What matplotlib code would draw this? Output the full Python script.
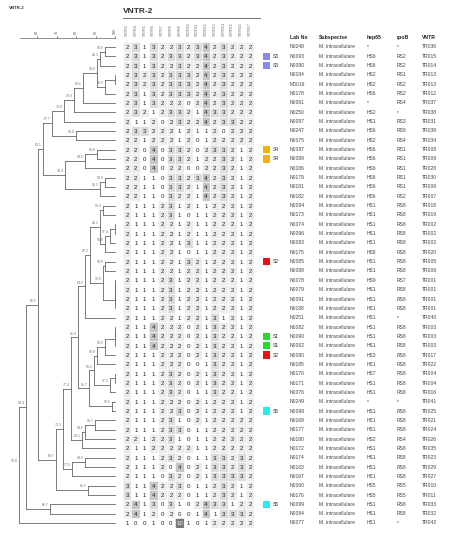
import numpy as np
import matplotlib.pyplot as plt
from matplotlib.patches import Rectangle

plt.rcParams['font.family'] = ['Liberation Sans', 'DejaVu Sans']

W, H = 458, 536

# ---- table data ----
lab_no = ['N0248', 'N0093', 'N0090', 'N0184', 'M0016', 'N0178', 'N0061', 'N0250', 'N0097',
          'N0247', 'N0075', 'N0087', 'N0089', 'N0186', 'N0179', 'N0181', 'N0182', 'N0094',
          'N0173', 'N0074', 'N0096', 'N0083', 'N0175', 'N0085', 'N0088', 'N0078', 'N0079',
          'N0091', 'N0188', 'N0251', 'N0082', 'N0090', 'N0092', 'N0080', 'N0185', 'N0170',
          'N0171', 'N0076', 'N0249', 'N0098', 'N0169', 'N0177', 'N0180', 'N0172', 'N0174',
          'N0183', 'N0167', 'N0060', 'N0176', 'N0099', 'N0084', 'N0077']
hsp65 = ['*', 'HS6', 'HS6', 'HS2', 'HS2', 'HS6', '*', 'HS2', 'HS1', 'HS6', 'HS2', 'HS6', 'HS6',
         'HS6', 'HS6', 'HS6', 'HS6', 'HS1', 'HS1', 'HS1', 'HS1', 'HS1', 'HS8', 'HS1', 'HS1',
         'HS9', 'HS1', 'HS1', 'HS1', 'HS1', 'HS1', 'HS1', 'HS1', 'HS3', 'HS1', 'HS7', 'HS1',
         'HS1', '*', 'HS1', 'HS1', 'HS1', 'HS2', 'HS1', 'HS1', 'HS1', 'HS1', 'HS5', 'HS5',
         'HS1', 'HS1', 'HS1']
rpob = ['*', 'RS2', 'RS2', 'RS1', 'RS2', 'RS2', 'RS4', '*', 'RS3', 'RS9', 'RS4', 'RS1', 'RS1',
        'RS1', 'RS1', 'RS1', 'RS2', 'RS8', 'RS8', 'RS8', 'RS8', 'RS8', 'RS8', 'RS8', 'RS8',
        'RS7', 'RS8', 'RS8', 'RS8', '*', 'RS8', 'RS8', 'RS8', 'RS8', 'RS8', 'RS8', 'RS8',
        'RS8', '*', 'RS8', 'RS8', 'RS8', 'RS4', 'RS8', 'RS8', 'RS8', 'RS8', 'RS5', 'RS5',
        'RS8', 'RS8', '*']
vntr_type = ['TR036', 'TR015', 'TR014', 'TR013', 'TR013', 'TR012', 'TR037', 'TR038', 'TR031',
             'TR039', 'TR034', 'TR008', 'TR009', 'TR028', 'TR030', 'TR006', 'TR007', 'TR018',
             'TR019', 'TR002', 'TR002', 'TR002', 'TR020', 'TR005', 'TR006', 'TR001', 'TR001',
             'TR001', 'TR001', 'TR040', 'TR003', 'TR003', 'TR003', 'TR017', 'TR022', 'TR004',
             'TR004', 'TR016', 'TR041', 'TR025', 'TR021', 'TR024', 'TR026', 'TR035', 'TR023',
             'TR029', 'TR027', 'TR010', 'TR011', 'TR033', 'TR032', 'TR042']
subspecies = 'M. intracellulare'

# ---- VNTR copy numbers, 15 loci ----
profiles = [
    [2, 3, 1, 3, 2, 2, 3, 2, 3, 4, 2, 3, 2, 2, 2],
    [2, 3, 1, 3, 2, 3, 3, 2, 3, 4, 2, 3, 2, 2, 2],
    [2, 3, 1, 3, 2, 2, 3, 2, 2, 4, 2, 3, 2, 2, 2],
    [2, 3, 2, 3, 2, 3, 3, 3, 2, 4, 2, 3, 2, 2, 2],
    [2, 3, 2, 3, 2, 3, 3, 3, 2, 4, 2, 3, 2, 2, 2],
    [2, 3, 1, 3, 2, 3, 3, 3, 2, 4, 2, 3, 2, 2, 2],
    [2, 3, 1, 3, 2, 2, 2, 0, 2, 4, 2, 3, 2, 2, 2],
    [2, 3, 2, 1, 2, 3, 3, 2, 1, 4, 3, 3, 2, 2, 2],
    [2, 1, 1, 2, 0, 2, 3, 2, 2, 4, 2, 3, 3, 2, 2],
    [2, 3, 3, 2, 2, 2, 1, 2, 1, 1, 2, 0, 2, 2, 2],
    [2, 2, 1, 2, 2, 2, 1, 2, 0, 1, 2, 2, 2, 2, 2],
    [2, 2, 0, 4, 0, 3, 3, 2, 0, 2, 3, 3, 2, 1, 2],
    [2, 2, 0, 4, 0, 3, 3, 2, 1, 2, 2, 3, 2, 1, 2],
    [2, 2, 0, 4, 0, 2, 2, 0, 0, 2, 2, 3, 2, 1, 2],
    [2, 2, 1, 1, 0, 3, 3, 2, 3, 4, 2, 3, 2, 1, 2],
    [2, 2, 1, 1, 0, 3, 3, 2, 1, 4, 2, 3, 2, 1, 2],
    [2, 2, 1, 1, 0, 3, 2, 2, 1, 4, 2, 3, 2, 1, 2],
    [2, 1, 1, 1, 2, 3, 1, 2, 1, 1, 2, 2, 2, 1, 2],
    [2, 1, 1, 1, 2, 3, 1, 0, 1, 1, 2, 2, 2, 1, 2],
    [2, 1, 1, 1, 2, 2, 1, 2, 1, 1, 2, 2, 2, 1, 2],
    [2, 1, 1, 1, 2, 2, 1, 2, 1, 1, 2, 2, 2, 1, 2],
    [2, 1, 1, 1, 2, 2, 1, 3, 1, 1, 2, 2, 2, 1, 2],
    [2, 1, 1, 1, 2, 2, 1, 0, 1, 1, 2, 2, 2, 1, 2],
    [2, 1, 1, 1, 2, 2, 1, 3, 2, 1, 2, 2, 2, 1, 2],
    [2, 1, 1, 1, 2, 2, 1, 2, 2, 1, 2, 2, 2, 1, 2],
    [2, 1, 1, 1, 2, 3, 1, 2, 2, 1, 2, 2, 2, 1, 2],
    [2, 1, 1, 1, 2, 3, 1, 2, 2, 1, 2, 2, 2, 1, 2],
    [2, 1, 1, 1, 2, 3, 1, 2, 2, 1, 2, 2, 2, 1, 2],
    [2, 1, 1, 1, 2, 3, 1, 2, 2, 1, 2, 2, 2, 1, 2],
    [2, 1, 1, 1, 2, 2, 1, 2, 2, 1, 3, 1, 2, 1, 2],
    [2, 1, 1, 4, 2, 2, 2, 0, 2, 1, 3, 2, 2, 1, 2],
    [2, 1, 1, 4, 2, 2, 2, 0, 2, 1, 3, 2, 2, 1, 2],
    [2, 1, 1, 4, 2, 2, 2, 0, 2, 1, 3, 2, 2, 1, 2],
    [2, 1, 1, 1, 2, 2, 2, 0, 2, 1, 3, 2, 2, 1, 2],
    [2, 1, 1, 1, 2, 2, 2, 0, 0, 1, 3, 2, 2, 1, 2],
    [2, 1, 1, 1, 2, 3, 2, 0, 2, 1, 3, 2, 2, 1, 2],
    [2, 1, 1, 1, 2, 3, 2, 0, 2, 1, 3, 2, 2, 1, 2],
    [2, 1, 1, 1, 2, 3, 2, 0, 1, 1, 3, 2, 2, 1, 2],
    [2, 1, 1, 1, 2, 2, 2, 0, 2, 1, 2, 2, 2, 1, 2],
    [2, 1, 1, 1, 2, 2, 3, 0, 2, 1, 2, 2, 2, 1, 2],
    [2, 1, 1, 1, 2, 3, 1, 0, 2, 1, 2, 2, 2, 2, 2],
    [2, 1, 1, 1, 2, 3, 3, 0, 1, 1, 2, 2, 2, 2, 2],
    [2, 2, 1, 2, 2, 3, 1, 0, 1, 1, 2, 2, 2, 2, 2],
    [2, 1, 1, 2, 2, 2, 2, 2, 1, 1, 2, 2, 2, 2, 2],
    [2, 1, 1, 1, 2, 3, 2, 0, 1, 1, 3, 3, 2, 3, 2],
    [2, 1, 1, 1, 2, 0, 4, 0, 2, 1, 3, 3, 2, 3, 2],
    [2, 1, 1, 1, 0, 3, 2, 0, 2, 1, 3, 3, 3, 3, 2],
    [3, 1, 1, 4, 2, 2, 3, 0, 1, 1, 2, 3, 2, 1, 2],
    [3, 1, 1, 4, 2, 2, 2, 0, 1, 1, 2, 3, 2, 1, 2],
    [2, 4, 1, 3, 0, 3, 1, 0, 2, 4, 3, 3, 1, 2, 2],
    [2, 4, 1, 2, 0, 2, 0, 0, 1, 4, 1, 3, 3, 3, 2],
    [1, 0, 0, 1, 0, 0, 10, 1, 0, 1, 2, 2, 2, 2, 2],
]
loci = ['VNTR3', 'VNTR4', 'VNTR5', 'VNTR6', 'VNTR7', 'VNTR8', 'VNTR9', 'VNTR10',
        'VNTR11', 'VNTR12', 'VNTR13', 'VNTR14', 'VNTR15', 'VNTR16', 'VNTR17']

# strain tags (row number -> tag)
tag_rows = [2, 3, 12, 13, 24, 32, 33, 34, 40, 50]
tag_names = ['S3', 'S3', 'S4', 'S4', 'S2', 'S1', 'S1', 'S2', 'S5', 'S5']
tag_colors = {'S1': '#22dd22', 'S2': '#ee1111', 'S3': '#8888ee', 'S4': '#f0b400', 'S5': '#22eef0'}

# ---- dendrogram: (child, child, % similarity), leaves are row numbers ----
n1_6 = (((1, 2, 94.9), 3, 92.3), ((4, 5, 100.0), 6, 94.9), 90.8)
top = (((((n1_6, 7, 83.6), 8, 79.0), 9, 73.8)), (10, 11, 80.0), 67.7)
g2 = (((12, 13, 90.8), 14, 84.6), ((15, 16, 94.9), 17, 92.3), 74.4)
n18_23 = ((18, 19, 93.8), (((20, 21, 100.0), 22, 97.4), 23, 94.9), 92.3)
n24_29 = ((24, 25, 94.9), (((26, 27, 100.0), 28, 100.0), 29, 100.0), 93.8)
n18_30 = ((n18_23, n24_29, 87.2), 30, 84.6)
n31_38 = (((((31, 32, 100.0), 33, 100.0), 34, 94.9), 35, 90.8),
          ((36, 37, 100.0), 38, 97.4), 89.2)
n31_40 = (n31_38, (39, 40, 98.5), 86.7)
n41_44 = (((41, 42, 89.7), 43, 84.6), 44, 83.1)
n45_47 = ((45, 46, 84.6), 47, 77.9)
clade_c = (((n18_30, n31_40, 81.0), n41_44, 77.4), n45_47, 73.3)
clade_x = (clade_c, (48, 49, 86.2), 69.7)
tree = (((((top, g2, 63.1), clade_x, 60.5)), (50, 51, 66.7), 54.4), 52, 50.8)

fig = plt.figure(figsize=(W / 100, H / 100), dpi=100)


def px_axes(x0, y0, x1, y1):
    a = fig.add_axes([x0 / W, 1 - y1 / H, (x1 - x0) / W, (y1 - y0) / H])
    a.axis('off')
    return a


n = len(lab_no)
row0, dy = 47.0, (523.0 - 47.0) / (n - 1)
ytop, ybot = row0 - dy / 2, 523.0 + dy / 2

# ---- dendrogram ----
axd = px_axes(7.75, ytop, 116.95, ybot)
axd.set_xlim(45, 101)
axd.set_ylim(n + 0.5, 0.5)
lc = '#666666'


def draw(node):
    if isinstance(node, int):
        return 100.0, float(node)
    a, b, s = node
    xa, ya = draw(a)
    xb, yb = draw(b)
    axd.plot([s, xa], [ya, ya], color=lc, lw=0.6)
    axd.plot([s, xb], [yb, yb], color=lc, lw=0.6)
    axd.plot([s, s], [ya, yb], color=lc, lw=0.6)
    ym = (ya + yb) / 2
    if s < 100:
        axd.text(s - 0.5, ym - 0.2, f'{s:.1f}', fontsize=2.5, color='#777777',
                 ha='right', va='bottom')
    return s, ym


draw(tree)

# similarity scale
scale = [60, 70, 80, 90, 100]
axd.plot([51.5, 100], [0.05, 0.05], color='#666666', lw=0.5, clip_on=False)
for v in scale:
    axd.plot([v, v], [0.05, -0.15], color='#666666', lw=0.5, clip_on=False)
    axd.text(v, -0.35, str(v), fontsize=2.6, color='#555555', rotation=90,
             ha='center', va='bottom', clip_on=False)
axd.text(45.5, -3.2, 'VNTR-2', fontsize=3.2, fontweight='bold', color='#333333',
         ha='left', va='center', clip_on=False)

# ---- VNTR matrix ----
axh = px_axes(122.6, ytop, 254.4, ybot)
m = len(loci)
axh.set_xlim(-0.5, m - 0.5)
axh.set_ylim(n - 0.5, -0.5)
shade = {0: '#ffffff', 1: '#ffffff', 2: '#ececec', 3: '#dcdcdc', 4: '#c6c6c6', 10: '#7a7a7a'}
for i, prof in enumerate(profiles):
    for j, v in enumerate(prof):
        axh.add_patch(Rectangle((j - 0.5, i - 0.5), 1, 1, facecolor=shade.get(v, '#bbbbbb'),
                                edgecolor='white', lw=0.4))
        axh.text(j, i + 0.05, str(v), fontsize=4.4, ha='center', va='center',
                 color='#222222' if v < 10 else '#f4f4f4')
for j, name in enumerate(loci):
    axh.text(j, -1.2, name, fontsize=2.6, rotation=90, ha='center', va='bottom',
             color='#666666', clip_on=False)
axh.text(-0.5, -3.8, 'VNTR-2', fontsize=6, fontweight='bold', color='#333333',
         ha='left', va='center', clip_on=False)
axh.plot([-0.5, m + 0.1], [-3.1, -3.1], color='#555555', lw=0.6, clip_on=False)

# ---- tags and table ----
axt = px_axes(256, ytop, 458, ybot)
axt.set_xlim(256, 458)
axt.set_ylim(n + 0.5, 0.5)
for r, t in zip(tag_rows, tag_names):
    axt.add_patch(Rectangle((263, r - 0.38), 7, 0.76, facecolor=tag_colors[t], edgecolor='none'))
    axt.text(273, r, t, fontsize=3.6, va='center', ha='left', color='#333333')

cols_x = [290, 319, 367, 397, 422]
heads = ['Lab No', 'Subspecise', 'hsp65', 'rpoB', 'VNTR']
for x, h in zip(cols_x, heads):
    axt.text(x, -0.05, h, fontsize=3.7, fontweight='bold', ha='left', va='center',
             color='#222222', clip_on=False)
for i in range(n):
    r = i + 1
    for x, val in zip(cols_x, [lab_no[i], subspecies, hsp65[i], rpob[i], vntr_type[i]]):
        axt.text(x, r, val, fontsize=3.6, ha='left', va='center', color='#444444')

fig.savefig('out.png', dpi=100)
